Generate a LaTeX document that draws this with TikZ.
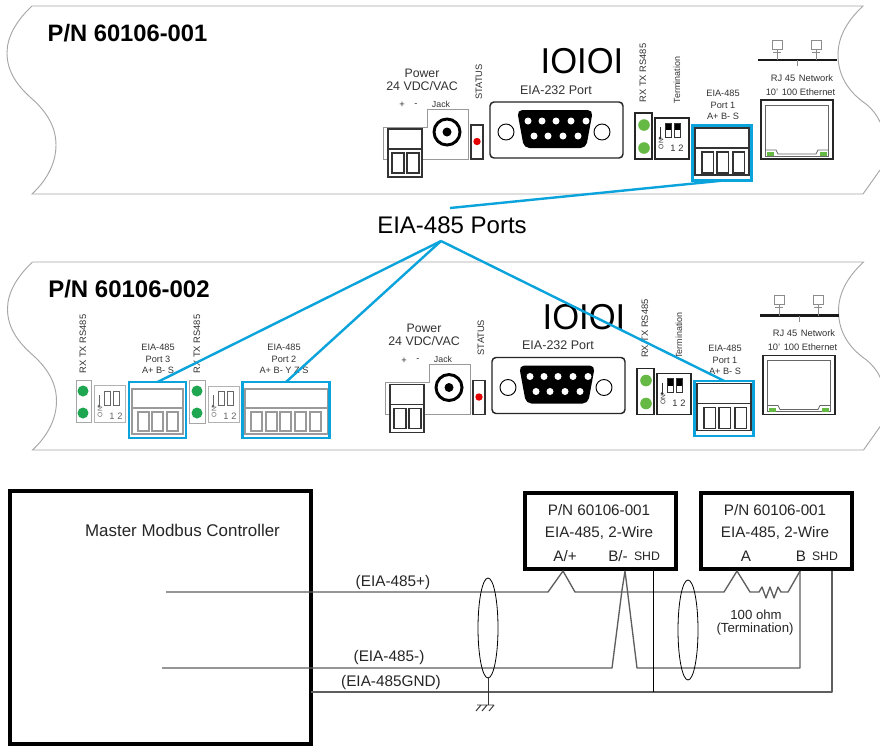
\documentclass[tikz,border=0pt]{standalone}
\usepackage{fontspec}
\usetikzlibrary{shapes.geometric}
\setmainfont{Liberation Sans}
\definecolor{bluel}{HTML}{0AA3DC}
\definecolor{lime}{HTML}{66B944}
\definecolor{ledg}{HTML}{1FA650}
\definecolor{wire}{HTML}{5E5E5E}
\definecolor{gear}{HTML}{333333}
\definecolor{termg}{HTML}{9A9A9A}
\tikzset{
  x=0.75pt,y=-0.75pt,
  lbl/.style={inner sep=0pt,outer sep=0pt,text=gear,align=center},
  fs/.style={font=\fontsize{#1}{#1}\selectfont},
  rot/.style={rotate=90},
  panelline/.style={draw=black!35,line width=0.7pt},
  bluebox/.style={draw=bluel,line width=1.9pt,inner sep=0pt,outer sep=0pt},
  blueline/.style={draw=bluel,line width=1.8pt},
  heavy/.style={draw=black,line width=3.4pt,inner sep=0pt,outer sep=0pt},
  wireline/.style={draw=wire,line width=1pt,line join=round},
  thinline/.style={draw=black,line width=0.6pt},
  termline/.style={draw=#1,line width=0.8pt},
  termline/.default=gear,
}
\newcommand\lbl[4][]{\node[lbl,#1] (#2) at (#3) {#4};}
% panel outline
\newcommand\panelshape{%
  \draw[panelline] (32,6) -- (863,6) .. controls (848,20) and (838,36) .. (838,55)
    .. controls (838,80) and (853,95) .. (866,104) .. controls (872,109) and (877,115) .. (880,122);
  \draw[panelline] (880,170) -- (863,194) -- (32,194) .. controls (45,182) and (56,165) .. (56,145)
    .. controls (56,125) and (45,110) .. (30,97) .. controls (18,86) and (7,72) .. (7,53)
    .. controls (7,38) and (15,22) .. (32,6);
}
% three pole terminal block, x y = left top of block
\newcommand\portthree[3]{% colour, x, y
  \begin{scope}[shift={(#2,#3)}]
    \draw[termline=#1] (0,0) rectangle (54,47);
    \draw[termline=#1] (0,20) -- (54,20);
    \foreach \q in {7,22,38} \draw[termline=#1] (\q,24) rectangle ++(11.5,21);
  \end{scope}
}
% dip switch internals
\newcommand\dipsw[4]{% colour, fill, x, y
  \begin{scope}[shift={(#3,#4)}]
    \draw[#1,line width=0.5pt] (0,4) -- (0,15);
    \fill[#1] (0,15) circle (1.5);
    \node[lbl,fs=5,rot,text=#1] at (1,21) {ON};
    \foreach \q in {5,14} {
      \fill[#2] (\q,0) rectangle ++(6,7);
      \draw[#1,line width=0.5pt] (\q,0) rectangle ++(6,14);
    }
    \node[lbl,fs=7,text=#1] at (13,25) {1};
    \node[lbl,fs=7,text=#1] at (21,25) {2};
  \end{scope}
}
% the part of the panel common to both models
\newcommand\gearright{%
  \lbl[fs=9.2]{pw}{422,73}{Power}
  \lbl[fs=9.3]{vdc}{422,86}{24 VDC/VAC}
  \lbl[fs=7]{plus}{402,105}{+}
  \lbl[fs=7]{minus}{416,105}{-}
  \lbl[fs=6.6]{jack}{441,104}{Jack}
  \draw[draw=black!40,line width=0.7pt] (383,127) -- (427,127) -- (427,109) -- (468,109) -- (468,159) -- (383,159) -- cycle;
  \fill[white] (388,129) rectangle (422,177);
  \draw[termline] (388,129) rectangle (422,177);
  \draw[termline] (388,149) -- (422,149);
  \draw[termline] (392,153) rectangle (404,173);
  \draw[termline] (407,153) rectangle (419,173);
  \draw[black,line width=2.2pt] (447,132) circle (13);
  \fill[black] (447,132) circle (4.5);
  \draw[termline] (471,125) rectangle (483,159);
  \fill[red!90!black] (477,141.5) circle (3.7);
  \lbl[fs=7,rot]{st}{479,82}{STATUS}
  \lbl[fs=27,text=black]{ioi}{582,61.5}{\scalebox{.96}[1]{IOIOI}}
  \lbl[fs=9.4]{e232}{556,90}{EIA-232 Port}
  \draw[black!85,line width=1.1pt,rounded corners=3pt] (490,102) rectangle (623,158);
  \draw[black,line width=0.7pt] (506,132) circle (8);
  \draw[black,line width=0.7pt] (602,132) circle (8);
  \fill[black,rounded corners=4pt] (517,110) -- (593,110) -- (586,148) -- (524,148) -- cycle;
  \foreach \q in {528,542,556,571,586} \fill[white] (\q,121) circle (3.5);
  \foreach \q in {534,548,563,578} \fill[white] (\q,136) circle (3.5);
  \lbl[fs=7,rot]{rxa}{643,73}{RX TX RS485}
  \draw[black!85,line width=1.1pt] (635,113) rectangle (652,159);
  \fill[lime] (644,125) circle (5.8);
  \fill[lime] (644,148) circle (5.8);
  \lbl[fs=6.7,rot]{term}{677,80}{Termination}
  \draw[black!85,line width=1pt] (655,118) rectangle (689,159);
  \dipsw{gear}{black}{660}{123}
  \lbl[fs=6.9]{p1a}{723,93}{EIA-485}
  \lbl[fs=6.9]{p1b}{723,105}{Port 1}
  \lbl[fs=6.9]{p1c}{723,116}{A+ B- S}
  \portthree{gear}{695}{128}
  \node[bluebox,minimum width=44pt,minimum height=41.5pt] (box1) at (722,153) {};
  \draw[draw=black!90,line width=1.6pt] (758,60) -- (837,60);
  \draw[draw=black!45,line width=0.6pt] (772,40) rectangle (782,49);
  \draw[draw=black!45,line width=0.6pt] (811,40) rectangle (821,49);
  \draw[draw=black!45,line width=0.6pt] (777,49) -- (777,60) (773,52) -- (781,52) (816,49) -- (816,60) (812,52) -- (820,52) (797,60) -- (797,66);
  \lbl[fs=7]{rj}{783,78}{RJ 45}
  \lbl[fs=7]{net}{816,78}{Network}
  \lbl[fs=7]{ten}{772,92}{10'}
  \lbl[fs=7]{eth}{808.5,92}{100 Ethernet}
  \draw[black!85,line width=1.1pt] (761,100) rectangle (833,159);
  \draw[black!60,line width=0.6pt] (765,105) rectangle (828,156);
  \draw[black!60,line width=0.6pt] (765,150) -- (776,150) -- (778,154) -- (816,154) -- (818,150) -- (828,150);
  \fill[lime] (767,152) rectangle (774,156);
  \fill[lime] (820,152) rectangle (827,156);
}
\begin{document}
\begin{tikzpicture}
\useasboundingbox (0,0) rectangle (880,747);
\fill[white] (0,0) rectangle (880,747);
% ---- first panel
\panelshape
\node[lbl,fs=17.8,text=black] (pn1) at (127.5,33) {\bfseries P/N 60106-001};
\begin{scope}[name prefix=a-]
  \gearright
\end{scope}
% ---- second panel
\begin{scope}[shift={(0.5,256)}]
  \panelshape
\end{scope}
\node[lbl,fs=18,text=black] (pn2) at (129,289) {\bfseries P/N 60106-002};
\begin{scope}[shift={(2,255.5)},name prefix=b-]
  \gearright
\end{scope}
% left hand ports of the second panel
\lbl[fs=7,rot]{rxb}{83,344}{RX TX RS485}
\draw[draw=black!35,line width=0.7pt] (76,380) rectangle (91,422);
\fill[ledg] (83,391) circle (5.5);
\fill[ledg] (83,413) circle (5.5);
\draw[draw=black!30,line width=0.7pt] (94,385) rectangle (125,422);
\dipsw{black!60}{white}{99}{391}
\lbl[fs=6.9]{p3a}{158,347}{EIA-485}
\lbl[fs=6.9]{p3b}{158,359}{Port 3}
\lbl[fs=6.9]{p3c}{158,370}{A+ B- S}
\draw[termline=termg] (132,389) rectangle (183,434);
\draw[termline=termg] (132,408) -- (183,408);
\foreach \q in {138,152,167} \draw[termline=termg] (\q,412) rectangle ++(11,19);
\node[bluebox,minimum width=42.5pt,minimum height=42pt] (box3) at (157.5,410) {};
\lbl[fs=7,rot]{rxc}{197,344}{RX TX RS485}
\draw[draw=black!35,line width=0.7pt] (189,380) rectangle (205,423);
\fill[ledg] (197,391) circle (5.5);
\fill[ledg] (197,413) circle (5.5);
\draw[draw=black!30,line width=0.7pt] (208,386) rectangle (239,422);
\dipsw{black!60}{white}{213}{391}
\lbl[fs=6.9]{p2a}{284,347}{EIA-485}
\lbl[fs=6.9]{p2b}{284,359}{Port 2}
\lbl[fs=6.9]{p2c}{284,370}{A+ B- Y Z S}
\draw[termline=termg] (245,389) rectangle (328,434);
\draw[termline=termg] (245,408) -- (328,408);
\foreach \q in {251,266,280,295,310} \draw[termline=termg] (\q,412) rectangle ++(11,19);
\node[bluebox,minimum width=65.5pt,minimum height=42pt] (box2) at (286,410) {};
% ---- caption and blue leaders
\node[lbl,fs=18,text=black] (ports) at (452,225) {EIA-485 Ports};
\coordinate (apex) at (441,241);
\coordinate (apextop) at (450,208);
\draw[blueline] (apextop) -- (a-box1.south);
\draw[blueline] (apex) -- (box3.north);
\draw[blueline] (apex) -- (box2.north);
\draw[blueline] (apex) -- (b-box1.north);
% ---- wiring diagram
\node[heavy,minimum width=225.5pt,minimum height=190pt] (master) at (160.5,617.5) {};
\node[heavy,minimum width=113pt,minimum height=57pt] (dev1) at (600.5,531) {};
\node[heavy,minimum width=113pt,minimum height=57pt] (dev2) at (776.5,531) {};
\lbl[fs=12.7,text=black!85]{mm}{182.5,530}{Master Modbus Controller}
\lbl[fs=11.4,text=black!85]{d1a}{599,510}{P/N 60106-001}
\lbl[fs=11.4,text=black!85]{d1b}{599,533}{EIA-485, 2-Wire}
\lbl[fs=11.4,text=black!85]{d1c}{565,556}{A/+}
\lbl[fs=11.4,text=black!85]{d1d}{618,556}{B/-}
\lbl[fs=9.2,text=black!85]{d1e}{647,556.5}{SHD}
\lbl[fs=11.4,text=black!85]{d2a}{775,510}{P/N 60106-001}
\lbl[fs=11.4,text=black!85]{d2b}{775,533}{EIA-485, 2-Wire}
\lbl[fs=11.4,text=black!85]{d2c}{746,556}{A}
\lbl[fs=11.4,text=black!85]{d2d}{801,556}{B}
\lbl[fs=9.2,text=black!85]{d2e}{825,556.5}{SHD}
\lbl[fs=9.9,text=black!85]{r1}{756,615}{100 ohm}
\lbl[fs=9.9,text=black!85]{r2}{755,629}{(Termination)}
\lbl[fs=11.5,text=black!85]{w1}{393,583}{(EIA-485+)}
\lbl[fs=11.5,text=black!85]{w2}{389,658}{(EIA-485-)}
\lbl[fs=11.5,text=black!85]{w3}{391,683}{(EIA-485GND)}
\coordinate (pa) at (166,592);
\coordinate (pb) at (162,668);
\draw[wireline] (pa) -- (548,592) -- (563,571) -- (575,592) -- (724,592) -- (737,571) -- (750,592) -- (759,592)
  -- (762,587) -- (766,598) -- (770,587) -- (774,598) -- (778,587) -- (781,592) -- (788,592) -- (800,571);
\draw[wireline] (pb) -- (612,668) -- (622,590) -- (625,571) -- (637,668) -- (800,668) -- (800,571);
\draw[wireline] (master.east |- 0,692) -- (832,692) -- (832,571);
\draw[thinline] (653,571) -- (653,692);
\node[draw=black,line width=0.6pt,ellipse,minimum width=15pt,minimum height=75pt,inner sep=0pt,outer sep=0pt] (sh1) at (488,628) {};
\node[draw=black,line width=0.6pt,ellipse,minimum width=15pt,minimum height=75pt,inner sep=0pt,outer sep=0pt] (sh2) at (688,630) {};
\coordinate (gnd) at (488,705);
\draw[draw=black!80,line width=0.7pt] (sh1.south) -- (gnd);
\draw[draw=black!80,line width=0.7pt] (477,705) -- (494,705) (481,705) -- (476,711) (487,705) -- (482,711) (494,705) -- (489,711);
\end{tikzpicture}
\end{document}
